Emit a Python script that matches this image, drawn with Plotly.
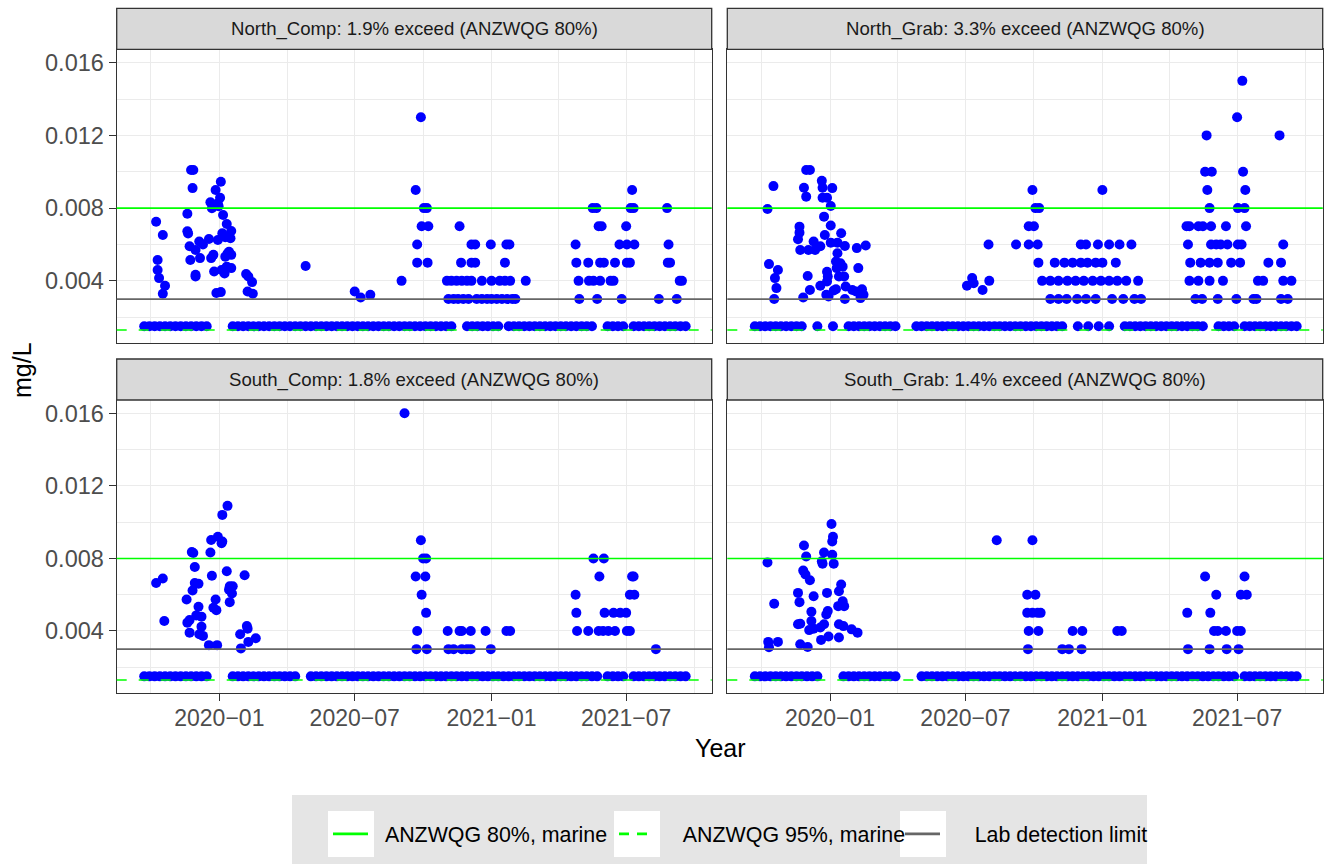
import plotly.graph_objects as go

W, H = 1327, 864

# ---------------- data ----------------
panel_names = ["North_Comp", "North_Grab", "South_Comp", "South_Grab"]
exceed_pct = [1.9, 3.3, 1.8, 1.4]

guide_80 = 0.008          # ANZWQG 80%, marine
guide_95 = 0.0013         # ANZWQG 95%, marine
detection_limit = 0.003   # Lab detection limit
nondetect_value = 0.0015  # value plotted for results below detection

# weekly sampling calendar
sampling_weeks = [
    "2019-09-22", "2019-09-29", "2019-10-06", "2019-10-13", "2019-10-20", "2019-10-27",
    "2019-11-03", "2019-11-10", "2019-11-17", "2019-11-24", "2019-12-01", "2019-12-08",
    "2019-12-15", "2019-12-22", "2019-12-29",
    "2020-01-05", "2020-01-12", "2020-01-19", "2020-01-26", "2020-02-02", "2020-02-09",
    "2020-02-16", "2020-02-23", "2020-03-01", "2020-03-08", "2020-03-15", "2020-03-22",
    "2020-03-29", "2020-04-05", "2020-04-12", "2020-04-19", "2020-04-26", "2020-05-03",
    "2020-05-10", "2020-05-17", "2020-05-24", "2020-05-31", "2020-06-07", "2020-06-14",
    "2020-06-21", "2020-06-28", "2020-07-05", "2020-07-12", "2020-07-19", "2020-07-26",
    "2020-08-02", "2020-08-09", "2020-08-16", "2020-08-23", "2020-08-30", "2020-09-06",
    "2020-09-13", "2020-09-20", "2020-09-27", "2020-10-04", "2020-10-11", "2020-10-18",
    "2020-10-25", "2020-11-01", "2020-11-08", "2020-11-15", "2020-11-22", "2020-11-29",
    "2020-12-06", "2020-12-13", "2020-12-20", "2020-12-27",
    "2021-01-03", "2021-01-10", "2021-01-17", "2021-01-24", "2021-01-31", "2021-02-07",
    "2021-02-14", "2021-02-21", "2021-02-28", "2021-03-07", "2021-03-14", "2021-03-21",
    "2021-03-28", "2021-04-04", "2021-04-11", "2021-04-18", "2021-04-25", "2021-05-02",
    "2021-05-09", "2021-05-16", "2021-05-23", "2021-05-30", "2021-06-06", "2021-06-13",
    "2021-06-20", "2021-06-27", "2021-07-04", "2021-07-11", "2021-07-18", "2021-07-25",
    "2021-08-01", "2021-08-08", "2021-08-15", "2021-08-22", "2021-08-29", "2021-09-05",
    "2021-09-12", "2021-09-19",
]

# periods in which weekly results were below detection
north_comp_nd_periods = [
    ("2019-09-22", "2019-12-15"), ("2020-01-19", "2020-11-08"), ("2020-11-29", "2021-01-10"),
    ("2021-01-24", "2021-05-16"), ("2021-06-06", "2021-06-27"), ("2021-07-11", "2021-09-19"),
]
north_grab_nd_periods = [
    ("2019-09-22", "2019-11-24"), ("2019-12-15", "2019-12-15"), ("2020-01-05", "2020-01-05"),
    ("2020-01-26", "2020-03-29"), ("2020-04-26", "2020-11-08"), ("2020-11-29", "2020-11-29"),
    ("2020-12-13", "2020-12-13"), ("2020-12-27", "2020-12-27"), ("2021-01-10", "2021-01-10"),
    ("2021-01-31", "2021-05-16"), ("2021-06-06", "2021-06-27"), ("2021-07-11", "2021-09-19"),
]
south_comp_nd_periods = [
    ("2019-09-22", "2019-12-15"), ("2020-01-19", "2020-04-12"), ("2020-05-03", "2021-05-23"),
    ("2021-06-06", "2021-06-27"), ("2021-07-11", "2021-09-19"),
]
south_grab_nd_periods = [
    ("2019-09-22", "2019-12-15"), ("2020-01-19", "2020-03-29"), ("2020-05-03", "2021-06-27"),
    ("2021-07-11", "2021-09-19"),
]

# detected results (date, mg/L)
north_comp_detected = [
    ("2019-10-08", 0.00725), ("2019-10-10", 0.00515), ("2019-10-10", 0.0046), ("2019-10-12", 0.00415),
    ("2019-10-17", 0.00652), ("2019-10-17", 0.00329), ("2019-10-20", 0.00373), ("2019-11-19", 0.00769),
    ("2019-11-19", 0.00673), ("2019-11-20", 0.0066), ("2019-11-22", 0.0059), ("2019-11-23", 0.00515),
    ("2019-11-24", 0.0101), ("2019-11-27", 0.0101), ("2019-11-26", 0.0091), ("2019-11-30", 0.0057),
    ("2019-11-30", 0.00433), ("2019-11-30", 0.00424), ("2019-12-05", 0.00616), ("2019-12-06", 0.00525),
    ("2019-12-10", 0.0060), ("2019-12-18", 0.0063), ("2019-12-20", 0.00832), ("2019-12-21", 0.00525),
    ("2019-12-22", 0.00799), ("2019-12-24", 0.00543), ("2019-12-25", 0.00451), ("2019-12-27", 0.0090),
    ("2019-12-28", 0.00333), ("2019-12-30", 0.00826), ("2019-12-30", 0.00625), ("2019-12-31", 0.0081),
    ("2020-01-02", 0.00857), ("2020-01-03", 0.00945), ("2020-01-03", 0.00338), ("2020-01-04", 0.0046),
    ("2020-01-05", 0.00662), ("2020-01-06", 0.00762), ("2020-01-08", 0.0044), ("2020-01-09", 0.00533),
    ("2020-01-09", 0.0064), ("2020-01-11", 0.00713), ("2020-01-11", 0.00478), ("2020-01-12", 0.0055),
    ("2020-01-14", 0.0056), ("2020-01-16", 0.00634), ("2020-01-17", 0.00674), ("2020-01-17", 0.00543),
    ("2020-01-17", 0.0047), ("2020-02-06", 0.00438), ("2020-02-08", 0.00341), ("2020-02-09", 0.00424),
    ("2020-02-14", 0.00393), ("2020-02-15", 0.00329),
    ("2020-04-26", 0.00482), ("2020-07-01", 0.00341), ("2020-07-09", 0.00308), ("2020-07-22", 0.00323),
    ("2020-09-02", 0.004), ("2020-09-21", 0.009), ("2020-09-23", 0.006), ("2020-09-23", 0.005),
    ("2020-09-28", 0.013), ("2020-09-29", 0.007), ("2020-10-02", 0.008), ("2020-10-06", 0.008),
    ("2020-10-07", 0.005), ("2020-10-08", 0.007),
    ("2020-11-19", 0.007), ("2020-12-05", 0.006), ("2020-12-10", 0.006), ("2020-12-31", 0.006),
    ("2021-01-21", 0.006), ("2021-01-25", 0.006), ("2020-11-21", 0.005), ("2020-12-05", 0.005),
    ("2020-12-10", 0.005), ("2021-01-19", 0.005),
    ("2020-11-02", 0.004), ("2020-11-08", 0.004), ("2020-11-15", 0.004), ("2020-11-22", 0.004),
    ("2020-11-29", 0.004), ("2020-12-05", 0.004), ("2020-12-19", 0.004), ("2021-01-01", 0.004),
    ("2021-01-12", 0.004), ("2021-01-19", 0.004), ("2021-01-26", 0.004), ("2021-02-16", 0.004),
    ("2020-11-04", 0.003), ("2020-11-11", 0.003), ("2020-11-17", 0.003), ("2020-11-24", 0.003),
    ("2020-12-01", 0.003), ("2020-12-12", 0.003), ("2020-12-19", 0.003), ("2020-12-26", 0.003),
    ("2021-01-01", 0.003), ("2021-01-08", 0.003), ("2021-01-15", 0.003), ("2021-01-22", 0.003),
    ("2021-01-29", 0.003), ("2021-02-02", 0.003),
    ("2021-05-17", 0.008), ("2021-05-22", 0.008), ("2021-07-07", 0.008), ("2021-07-11", 0.008),
    ("2021-08-25", 0.008), ("2021-07-09", 0.009), ("2021-05-25", 0.007), ("2021-05-29", 0.007),
    ("2021-07-01", 0.007), ("2021-04-24", 0.006), ("2021-06-22", 0.006), ("2021-07-02", 0.006),
    ("2021-07-12", 0.006), ("2021-08-27", 0.006),
    ("2021-04-25", 0.005), ("2021-05-11", 0.005), ("2021-05-27", 0.005), ("2021-06-01", 0.005),
    ("2021-06-16", 0.005), ("2021-07-02", 0.005), ("2021-07-06", 0.005), ("2021-08-26", 0.005),
    ("2021-08-29", 0.005),
    ("2021-04-28", 0.004), ("2021-05-12", 0.004), ("2021-05-18", 0.004), ("2021-05-27", 0.004),
    ("2021-06-10", 0.004), ("2021-06-14", 0.004), ("2021-09-11", 0.004), ("2021-09-14", 0.004),
    ("2021-04-29", 0.003), ("2021-05-23", 0.003), ("2021-06-25", 0.003), ("2021-08-14", 0.003),
    ("2021-09-07", 0.003),
]

north_grab_detected = [
    ("2019-10-09", 0.00795), ("2019-10-11", 0.00492), ("2019-10-17", 0.00921), ("2019-10-18", 0.0030),
    ("2019-10-19", 0.00415), ("2019-10-21", 0.0036), ("2019-10-23", 0.0046), ("2019-11-19", 0.00629),
    ("2019-11-21", 0.00698), ("2019-11-21", 0.00665), ("2019-11-22", 0.0057), ("2019-11-26", 0.00308),
    ("2019-11-27", 0.00912), ("2019-11-30", 0.0101), ("2019-11-30", 0.00863), ("2019-12-02", 0.00427),
    ("2019-12-03", 0.0057), ("2019-12-05", 0.0101), ("2019-12-05", 0.0035), ("2019-12-10", 0.00616),
    ("2019-12-12", 0.0057), ("2019-12-19", 0.0059), ("2019-12-19", 0.00373), ("2019-12-21", 0.0095),
    ("2019-12-22", 0.00912), ("2019-12-22", 0.00857), ("2019-12-24", 0.00753), ("2019-12-25", 0.00652),
    ("2019-12-28", 0.00857), ("2019-12-28", 0.0045), ("2019-12-29", 0.00424), ("2019-12-28", 0.00396),
    ("2019-12-27", 0.00323), ("2019-12-30", 0.00314), ("2020-01-02", 0.00812), ("2020-01-02", 0.00704),
    ("2020-01-02", 0.0061), ("2020-01-04", 0.0091), ("2020-01-06", 0.00347), ("2020-01-09", 0.00506),
    ("2020-01-09", 0.00354), ("2020-01-10", 0.0047), ("2020-01-11", 0.0061), ("2020-01-11", 0.00552),
    ("2020-01-13", 0.00424), ("2020-01-15", 0.00497), ("2020-01-16", 0.00662), ("2020-01-18", 0.00478),
    ("2020-01-20", 0.00424), ("2020-01-21", 0.00592), ("2020-01-21", 0.0030), ("2020-01-22", 0.00369),
    ("2020-01-31", 0.0035), ("2020-02-05", 0.00341), ("2020-02-06", 0.0058), ("2020-02-08", 0.0047),
    ("2020-02-11", 0.00305), ("2020-02-13", 0.00354), ("2020-02-15", 0.00323), ("2020-02-18", 0.00594),
    ("2020-07-03", 0.00373), ("2020-07-10", 0.00415), ("2020-07-12", 0.00387), ("2020-07-24", 0.0035),
    ("2020-08-01", 0.006), ("2020-08-02", 0.004), ("2020-09-07", 0.006),
    ("2020-09-24", 0.007), ("2020-10-01", 0.007), ("2020-09-24", 0.006), ("2020-10-06", 0.006),
    ("2020-09-29", 0.009), ("2020-10-03", 0.008), ("2020-10-08", 0.008), ("2020-10-07", 0.005),
    ("2021-01-01", 0.009),
    ("2020-12-03", 0.006), ("2020-12-10", 0.006), ("2020-12-26", 0.006), ("2021-01-10", 0.006),
    ("2021-01-24", 0.006), ("2021-02-09", 0.006),
    ("2020-10-29", 0.005), ("2020-11-11", 0.005), ("2020-11-22", 0.005), ("2020-12-03", 0.005),
    ("2020-12-12", 0.005), ("2020-12-23", 0.005), ("2021-01-01", 0.005), ("2021-01-19", 0.005),
    ("2020-10-12", 0.004), ("2020-10-23", 0.004), ("2020-11-03", 0.004), ("2020-11-15", 0.004),
    ("2020-11-26", 0.004), ("2020-12-07", 0.004), ("2020-12-19", 0.004), ("2020-12-30", 0.004),
    ("2021-01-10", 0.004), ("2021-01-21", 0.004), ("2021-02-02", 0.004), ("2021-02-18", 0.004),
    ("2020-10-23", 0.003), ("2020-11-03", 0.003), ("2020-11-14", 0.003), ("2020-11-28", 0.003),
    ("2020-12-10", 0.003), ("2020-12-23", 0.003), ("2021-01-14", 0.003), ("2021-01-29", 0.003),
    ("2021-02-13", 0.003), ("2021-02-22", 0.003),
    ("2021-07-08", 0.015), ("2021-07-01", 0.013), ("2021-05-21", 0.012), ("2021-08-27", 0.012),
    ("2021-05-19", 0.010), ("2021-05-28", 0.010), ("2021-07-09", 0.010), ("2021-05-22", 0.009),
    ("2021-07-12", 0.009), ("2021-05-25", 0.008), ("2021-07-02", 0.008), ("2021-07-11", 0.008),
    ("2021-04-24", 0.007), ("2021-04-28", 0.007), ("2021-05-10", 0.007), ("2021-05-16", 0.007),
    ("2021-05-27", 0.007), ("2021-06-16", 0.007), ("2021-07-13", 0.007),
    ("2021-04-26", 0.006), ("2021-05-27", 0.006), ("2021-06-03", 0.006), ("2021-06-09", 0.006),
    ("2021-06-18", 0.006), ("2021-07-02", 0.006), ("2021-07-07", 0.006), ("2021-09-01", 0.006),
    ("2021-04-29", 0.005), ("2021-05-13", 0.005), ("2021-05-25", 0.005), ("2021-06-05", 0.005),
    ("2021-06-23", 0.005), ("2021-07-05", 0.005), ("2021-08-12", 0.005), ("2021-08-29", 0.005),
    ("2021-04-28", 0.004), ("2021-05-10", 0.004), ("2021-05-25", 0.004), ("2021-06-12", 0.004),
    ("2021-07-29", 0.004), ("2021-08-05", 0.004), ("2021-09-01", 0.004), ("2021-09-12", 0.004),
    ("2021-05-06", 0.003), ("2021-05-15", 0.003), ("2021-06-05", 0.003), ("2021-06-30", 0.003),
    ("2021-07-23", 0.003), ("2021-07-27", 0.003), ("2021-08-29", 0.003), ("2021-09-07", 0.003),
]

south_comp_detected = [
    ("2019-10-08", 0.00665), ("2019-10-17", 0.00689), ("2019-10-19", 0.00455), ("2019-11-18", 0.00574),
    ("2019-11-19", 0.00446), ("2019-11-22", 0.0046), ("2019-11-22", 0.00391), ("2019-11-25", 0.00835),
    ("2019-11-27", 0.0083), ("2019-11-26", 0.00623), ("2019-11-29", 0.00753), ("2019-11-29", 0.00665),
    ("2019-12-01", 0.00486), ("2019-12-04", 0.0066), ("2019-12-04", 0.00534), ("2019-12-05", 0.00382),
    ("2019-12-08", 0.00479), ("2019-12-08", 0.00424), ("2019-12-10", 0.00373), ("2019-12-18", 0.00322),
    ("2019-12-20", 0.00833), ("2019-12-21", 0.00902), ("2019-12-22", 0.00705), ("2019-12-24", 0.00528),
    ("2019-12-27", 0.00574), ("2019-12-28", 0.00515), ("2019-12-29", 0.00322), ("2019-12-30", 0.0092),
    ("2020-01-04", 0.00884), ("2020-01-05", 0.00893), ("2020-01-05", 0.0104), ("2020-01-11", 0.00729),
    ("2020-01-12", 0.0109), ("2020-01-14", 0.00628), ("2020-01-15", 0.00647), ("2020-01-15", 0.00559),
    ("2020-01-18", 0.00607), ("2020-01-19", 0.00647), ("2020-01-29", 0.00382), ("2020-01-30", 0.00304),
    ("2020-02-04", 0.00707), ("2020-02-07", 0.00427), ("2020-02-08", 0.00413), ("2020-02-09", 0.0034),
    ("2020-02-19", 0.0036),
    ("2020-09-06", 0.016), ("2020-09-21", 0.007), ("2020-09-22", 0.003), ("2020-09-23", 0.004),
    ("2020-09-28", 0.009), ("2020-09-29", 0.006), ("2020-10-01", 0.008), ("2020-10-04", 0.007),
    ("2020-10-05", 0.008), ("2020-10-05", 0.005), ("2020-10-06", 0.003),
    ("2020-11-03", 0.004), ("2020-11-19", 0.004), ("2020-11-22", 0.004), ("2020-12-04", 0.004),
    ("2020-12-24", 0.004), ("2021-01-21", 0.004), ("2021-01-26", 0.004),
    ("2020-11-04", 0.003), ("2020-11-11", 0.003), ("2020-11-22", 0.003), ("2020-11-29", 0.003),
    ("2020-12-04", 0.003), ("2020-12-31", 0.003),
    ("2021-05-18", 0.008), ("2021-06-01", 0.008), ("2021-05-26", 0.007), ("2021-07-09", 0.007),
    ("2021-07-11", 0.007), ("2021-04-24", 0.006), ("2021-07-06", 0.006), ("2021-07-12", 0.006),
    ("2021-04-25", 0.005), ("2021-06-02", 0.005), ("2021-06-14", 0.005), ("2021-06-23", 0.005),
    ("2021-07-01", 0.005),
    ("2021-04-26", 0.004), ("2021-05-11", 0.004), ("2021-05-25", 0.004), ("2021-05-31", 0.004),
    ("2021-06-07", 0.004), ("2021-06-16", 0.004), ("2021-07-02", 0.004), ("2021-07-06", 0.004),
    ("2021-08-10", 0.003),
]

south_grab_detected = [
    ("2019-10-09", 0.00778), ("2019-10-10", 0.0034), ("2019-10-11", 0.0031), ("2019-10-18", 0.0055),
    ("2019-10-23", 0.0034), ("2019-11-19", 0.0061), ("2019-11-19", 0.00437), ("2019-11-21", 0.00559),
    ("2019-11-22", 0.0044), ("2019-11-22", 0.00327), ("2019-11-26", 0.00733), ("2019-11-27", 0.00871),
    ("2019-11-29", 0.00711), ("2019-11-30", 0.00811), ("2019-12-02", 0.00312), ("2019-12-04", 0.00405),
    ("2019-12-05", 0.0068), ("2019-12-07", 0.00506), ("2019-12-07", 0.00455), ("2019-12-10", 0.00592),
    ("2019-12-10", 0.00413), ("2019-12-19", 0.00419), ("2019-12-20", 0.00351), ("2019-12-21", 0.00784),
    ("2019-12-22", 0.00771), ("2019-12-24", 0.00833), ("2019-12-24", 0.00437), ("2019-12-27", 0.00491),
    ("2019-12-28", 0.0061), ("2019-12-29", 0.0051), ("2019-12-30", 0.0037), ("2020-01-03", 0.0099),
    ("2020-01-04", 0.00893), ("2020-01-04", 0.0082), ("2020-01-05", 0.0092), ("2020-01-06", 0.00771),
    ("2020-01-12", 0.00537), ("2020-01-13", 0.00619), ("2020-01-13", 0.00437), ("2020-01-13", 0.00364),
    ("2020-01-16", 0.00656), ("2020-01-18", 0.00564), ("2020-01-19", 0.00427), ("2020-01-20", 0.00537),
    ("2020-01-30", 0.00409), ("2020-02-07", 0.00391),
    ("2020-08-12", 0.009), ("2020-09-29", 0.009), ("2020-09-22", 0.006), ("2020-10-03", 0.006),
    ("2020-09-22", 0.005), ("2020-09-29", 0.005), ("2020-10-06", 0.005), ("2020-10-10", 0.005),
    ("2020-09-24", 0.004), ("2020-10-07", 0.004), ("2020-09-23", 0.003),
    ("2020-11-22", 0.004), ("2020-12-05", 0.004), ("2021-01-21", 0.004), ("2021-01-27", 0.004),
    ("2020-11-08", 0.003), ("2020-11-17", 0.003), ("2020-12-04", 0.003),
    ("2021-05-19", 0.007), ("2021-07-11", 0.007), ("2021-06-03", 0.006), ("2021-07-06", 0.006),
    ("2021-07-14", 0.006), ("2021-04-25", 0.005), ("2021-05-26", 0.005),
    ("2021-05-31", 0.004), ("2021-06-05", 0.004), ("2021-06-16", 0.004), ("2021-07-01", 0.004),
    ("2021-07-06", 0.004),
    ("2021-04-26", 0.003), ("2021-05-25", 0.003), ("2021-06-17", 0.003), ("2021-07-03", 0.003),
]

x_range = ["2019-08-16", "2021-10-24"]
y_range = [0.000565, 0.016735]

# ---------------- layout geometry (pixels) ----------------
def fx(p):
    return p / W

def fy(p):
    return 1 - p / H

col_px = [(116.7, 711.7), (727.3, 1322.7)]
row_px = [(49.3, 343.3), (400.0, 693.3)]
strip_px = [(8.3, 49.3), (359.0, 400.0)]

FONT = "Liberation Sans, Arial, sans-serif"
BLUE = "#0000FF"
GREEN = "#00FF00"
GREY_LINE = "#666666"
NBSP = "\u00a0"

panels = [
    (panel_names[0], exceed_pct[0], north_comp_detected, north_comp_nd_periods, 0, 0),
    (panel_names[1], exceed_pct[1], north_grab_detected, north_grab_nd_periods, 0, 1),
    (panel_names[2], exceed_pct[2], south_comp_detected, south_comp_nd_periods, 1, 0),
    (panel_names[3], exceed_pct[3], south_grab_detected, south_grab_nd_periods, 1, 1),
]

fig = go.Figure()
layout_axes = {}
shapes = []
annotations = []

# legend background and white key boxes
shapes.append(dict(type="rect", xref="paper", yref="paper",
                   x0=fx(292), x1=fx(1147), y0=fy(870), y1=fy(795),
                   fillcolor="#E5E5E5", line=dict(width=0), layer="below"))
for kx in [328, 614, 900]:
    shapes.append(dict(type="rect", xref="paper", yref="paper",
                       x0=fx(kx), x1=fx(kx + 46), y0=fy(857), y1=fy(811),
                       fillcolor="#FFFFFF", line=dict(width=0), layer="below"))

for i, (name, pct, detected, periods, r, c) in enumerate(panels):
    k = i + 1
    xa = "x" if k == 1 else f"x{k}"
    ya = "y" if k == 1 else f"y{k}"
    nd_dates = [d for d in sampling_weeks if any(a <= d <= b for a, b in periods)]
    fig.add_trace(go.Scatter(
        x=nd_dates, y=[nondetect_value] * len(nd_dates), mode="markers",
        marker=dict(color=BLUE, size=10, line=dict(width=0)),
        xaxis=xa, yaxis=ya, showlegend=False, hoverinfo="x+y"))
    fig.add_trace(go.Scatter(
        x=[d for d, _ in detected], y=[v for _, v in detected], mode="markers",
        marker=dict(color=BLUE, size=10, line=dict(width=0)),
        xaxis=xa, yaxis=ya, showlegend=False, hoverinfo="x+y"))

    x0, x1 = col_px[c]
    y0, y1 = row_px[r]
    bottom = (r == 1)
    left = (c == 0)
    layout_axes[("xaxis" if k == 1 else f"xaxis{k}")] = dict(
        domain=[fx(x0), fx(x1)], anchor=ya, type="date", range=x_range,
        tick0="2020-01-01", dtick="M6", tickformat="%Y\u2212%m",
        showticklabels=bottom, ticks="outside" if bottom else "", ticklen=7,
        tickwidth=1.3, tickcolor="#333333", ticklabelstandoff=-3,
        tickfont=dict(family=FONT, size=23, color="#4D4D4D"),
        showgrid=True, gridcolor="#EBEBEB", gridwidth=1.3,
        minor=dict(dtick="M3", tick0="2020-01-01", showgrid=True,
                   gridcolor="#EBEBEB", gridwidth=0.6, ticks=""),
        showline=True, linecolor="#333333", linewidth=1.3, mirror=True,
        zeroline=False, fixedrange=True)
    layout_axes[("yaxis" if k == 1 else f"yaxis{k}")] = dict(
        domain=[fy(y1), fy(y0)], anchor=xa, range=y_range,
        tick0=0, dtick=0.004, tickformat=".3f",
        showticklabels=left, ticks="outside" if left else "", ticklen=7,
        tickwidth=1.3, tickcolor="#333333",
        tickfont=dict(family=FONT, size=23.5, color="#4D4D4D"),
        showgrid=True, gridcolor="#EBEBEB", gridwidth=1.3,
        minor=dict(dtick=0.002, tick0=0, showgrid=True,
                   gridcolor="#EBEBEB", gridwidth=0.6, ticks=""),
        showline=True, linecolor="#333333", linewidth=1.3, mirror=True,
        zeroline=False, fixedrange=True)

    # guideline / detection-limit lines across each panel
    for val, col, dash, wid in [(guide_95, GREEN, "10px,12px", 1.6),
                                (detection_limit, GREY_LINE, "solid", 1.8),
                                (guide_80, GREEN, "solid", 1.6)]:
        shapes.append(dict(type="line", xref=f"{xa} domain", x0=0, x1=1,
                           yref=ya, y0=val, y1=val, layer="above",
                           line=dict(color=col, width=wid, dash=dash)))

    # strip
    s0, s1 = strip_px[r]
    shapes.append(dict(type="rect", xref="paper", yref="paper",
                       x0=fx(x0), x1=fx(x1), y0=fy(s1), y1=fy(s0),
                       fillcolor="#D9D9D9", line=dict(color="#333333", width=1.3),
                       layer="above"))
    annotations.append(dict(text=f"{name}: {pct}% exceed (ANZWQG 80%)",
                            xref="paper", yref="paper",
                            x=fx((x0 + x1) / 2), y=fy((s0 + s1) / 2),
                            xanchor="center", yanchor="middle", showarrow=False,
                            font=dict(family=FONT, size=18.6, color="#1A1A1A")))

# legend entries (lines drawn as shapes above)
legend_items = [(NBSP * 2 + "ANZWQG 80%, marine", GREEN, "solid"),
                (NBSP * 4 + "ANZWQG 95%, marine", GREEN, "10px,8px"),
                (NBSP * 5 + "Lab detection limit", GREY_LINE, "solid")]
for label, col, dash in legend_items:
    fig.add_trace(go.Scatter(x=[None], y=[None], mode="lines", name=label,
                             line=dict(color=col, width=2.8, dash=dash),
                             xaxis="x", yaxis="y", showlegend=True))

annotations.append(dict(text="Year", xref="paper", yref="paper",
                        x=fx(720), y=fy(748), xanchor="center", yanchor="middle",
                        showarrow=False, font=dict(family=FONT, size=25, color="#000000")))
annotations.append(dict(text="mg/L", xref="paper", yref="paper", textangle=-90,
                        x=fx(22), y=fy(370), xanchor="center", yanchor="middle",
                        showarrow=False, font=dict(family=FONT, size=25, color="#000000")))

fig.update_layout(
    width=W, height=H,
    margin=dict(l=0, r=0, t=0, b=0),
    paper_bgcolor="#FFFFFF", plot_bgcolor="#FFFFFF",
    font=dict(family=FONT),
    shapes=shapes, annotations=annotations,
    showlegend=True,
    legend=dict(orientation="h", x=fx(328), xanchor="left", y=fy(834), yanchor="middle",
                bgcolor="rgba(0,0,0,0)", font=dict(family=FONT, size=21.4, color="#000000"),
                itemwidth=35, entrywidth=236, entrywidthmode="pixels",
                traceorder="normal", itemclick=False, itemdoubleclick=False),
    **layout_axes,
)

fig.write_html("out.html")
